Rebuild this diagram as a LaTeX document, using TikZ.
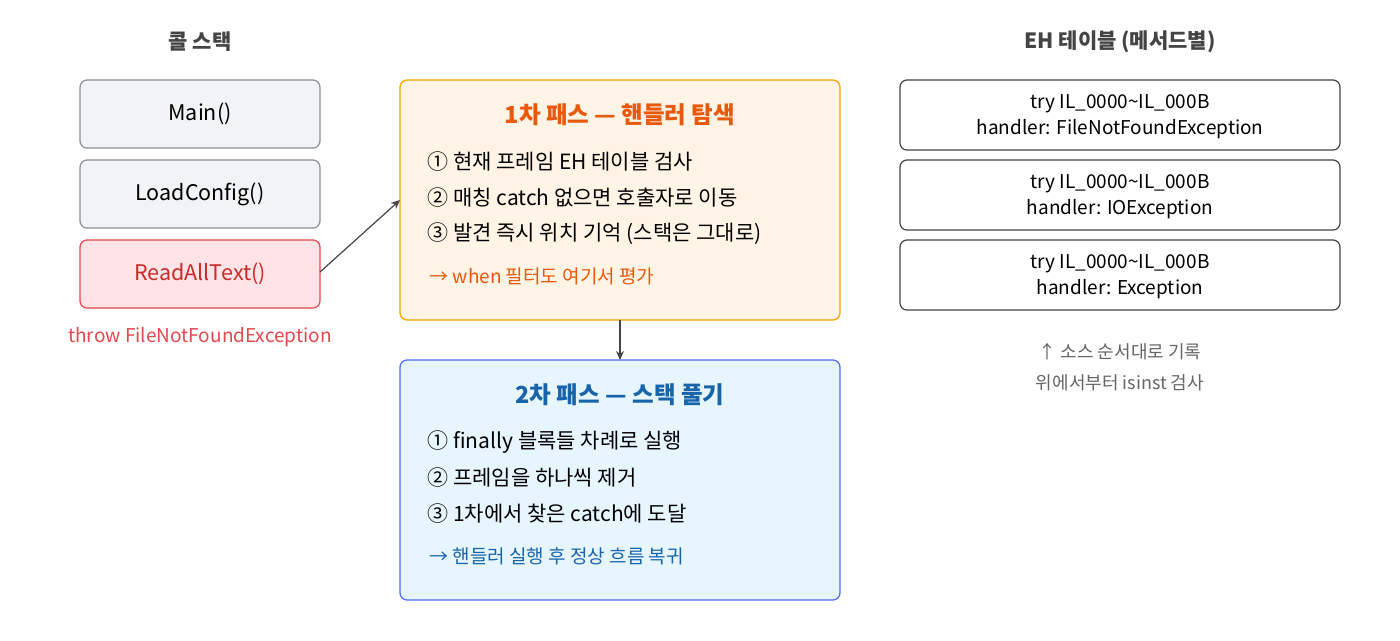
\documentclass[tikz,border=0pt]{standalone}
\usepackage{fontspec}
\setmainfont{Noto Sans CJK KR}
\usetikzlibrary{arrows.meta}
\definecolor{grayfill}{HTML}{F1F3F5}
\definecolor{grayline}{HTML}{8A9099}
\definecolor{pinkfill}{HTML}{FFE3E6}
\definecolor{pinkline}{HTML}{E5484D}
\definecolor{redtext}{HTML}{C92A2A}
\definecolor{orfill}{HTML}{FFF4E6}
\definecolor{orline}{HTML}{F59F00}
\definecolor{ortext}{HTML}{E8590C}
\definecolor{blfill}{HTML}{E7F5FF}
\definecolor{blline}{HTML}{4C6EF5}
\definecolor{bltext}{HTML}{1864AB}
\definecolor{titletext}{HTML}{444444}
\definecolor{notetext}{HTML}{666666}
\tikzset{
  x=1pt,y=-1pt,
  box/.style={draw, rounded corners=7pt, line width=1.2pt},
  stackbox/.style={box, fill=grayfill, draw=grayline},
  title/.style={font=\fontsize{21}{24}\selectfont\bfseries, text=titletext},
  body/.style={font=\fontsize{21}{24}\selectfont, anchor=west},
  small/.style={font=\fontsize{19}{22}\selectfont},
  arr/.style={-{Stealth[length=9pt,width=8pt]}, line width=1.2pt, draw=titletext},
}
\begin{document}
\begin{tikzpicture}
\useasboundingbox (0,0) rectangle (1400,640);
\fill[white] (0,0) rectangle (1400,640);
\node[title] (t1) at (200,42) {콜 스택};
\draw[stackbox] (80,80) rectangle (320,148);
\node[font=\fontsize{21.5}{24}\selectfont] (main) at (200,114) {Main()};
\draw[stackbox] (80,160) rectangle (320,228);
\node[font=\fontsize{21.5}{24}\selectfont] (load) at (200,194) {LoadConfig()};
\draw[box, fill=pinkfill, draw=pinkline] (80,240) rectangle (320,308);
\node[font=\fontsize{21.5}{24}\selectfont, text=redtext] (read) at (200,274) {ReadAllText()};
\coordinate (readE) at (320,272);
\node[small, text=pinkline] (throw) at (200,337) {throw FileNotFoundException};

\draw[box, fill=orfill, draw=orline] (400,80) rectangle (840,320);
\coordinate (orW) at (400,200);
\coordinate (orS) at (620,320);
\node[font=\fontsize{23.5}{26}\selectfont\bfseries, text=ortext] (p1) at (620,115) {1차 패스 — 핸들러 탐색};
\node[body] (p1a) at (424,162) {① 현재 프레임 EH 테이블 검사};
\node[body] (p1b) at (424,198) {② 매칭 catch 없으면 호출자로 이동};
\node[body] (p1c) at (424,234) {③ 발견 즉시 위치 기억 (스택은 그대로)};
\node[small, anchor=west, text=ortext] (p1n) at (426,276) {→ when 필터도 여기서 평가};

\draw[box, fill=blfill, draw=blline] (400,360) rectangle (840,600);
\coordinate (blN) at (620,360);
\node[font=\fontsize{23.5}{26}\selectfont\bfseries, text=bltext] (p2) at (620,395) {2차 패스 — 스택 풀기};
\node[body] (p2a) at (424,442) {① finally 블록들 차례로 실행};
\node[body] (p2b) at (424,478) {② 프레임을 하나씩 제거};
\node[body] (p2c) at (424,514) {③ 1차에서 찾은 catch에 도달};
\node[small, anchor=west, text=bltext] (p2n) at (426,556) {→ 핸들러 실행 후 정상 흐름 복귀};

\draw[arr] (readE) -- (orW);
\draw[arr] (orS) -- (blN);

\node[title] (t2) at (1120,42) {EH 테이블 (메서드별)};
\foreach \y/\h [count=\i] in {80/FileNotFoundException,160/IOException,240/Exception}{
  \draw[box, fill=white, draw=titletext] (900,\y) rectangle (1340,\y+70);
  \node[font=\fontsize{19}{26}\selectfont, align=center] (eh\i) at (1120,\y+37) {try IL\_0000\textasciitilde IL\_000B\\handler: \h};
}
\node[text=notetext, align=center, font=\fontsize{18}{31}\selectfont] (ehn) at (1120,367) {↑ 소스 순서대로 기록\\위에서부터 isinst 검사};
\end{tikzpicture}
\end{document}
